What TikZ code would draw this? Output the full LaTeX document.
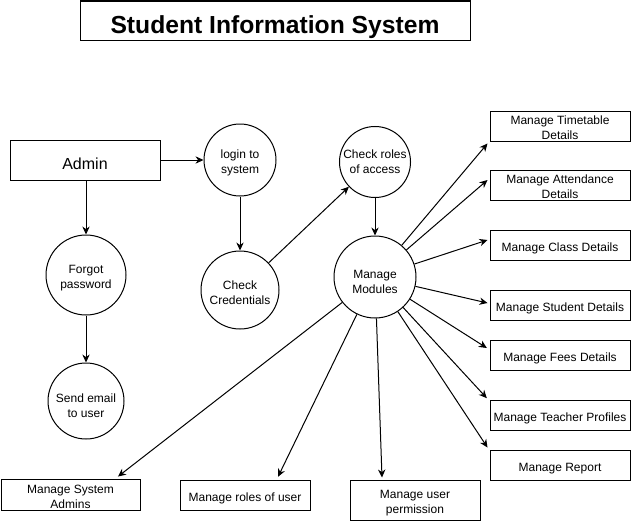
\documentclass[tikz,border=0pt]{standalone}
\usepackage{fontspec}
\setmainfont{Liberation Sans}
\usetikzlibrary{arrows.meta}
\newcommand\dnr[1]{\rule{0pt}{#1}}
\begin{document}
\begin{tikzpicture}[x=0.75pt,y=-0.75pt,
  every node/.style={inner sep=1pt, align=center, font=\fontsize{9}{11.25}\selectfont,
    execute at begin node={\rule{0pt}{1.25em}}},
  box/.style={draw, line width=0.75pt, rectangle, minimum width=105pt, minimum height=22.5pt},
  proc/.style={draw, line width=0.75pt, circle},
  flow/.style={line width=0.75pt, -{Stealth[length=6pt,width=5.5pt]}}]
\useasboundingbox (0,0) rectangle (631,521);
\node[box, minimum width=292.5pt, minimum height=29.25pt, font=\fontsize{18.5}{22}\selectfont\bfseries,
  execute at begin node={\rule{0pt}{0.95em}}] (title) at (275,20.5) {Student Information System};
\node[box, minimum width=112.5pt, minimum height=30pt, font=\fontsize{12}{14}\selectfont] (admin) at (85,160) {Admin};
\node[proc, minimum size=54pt] (login) at (240,160) {\dnr{11.1pt}login to\\system};
\node[proc, minimum size=60pt] (forgot) at (86,275) {\dnr{11.1pt}Forgot\\password};
\node[proc, minimum size=58.5pt] (cred) at (240,290) {\dnr{10.4pt}Check\\Credentials};
\node[proc, minimum size=52.5pt] (roles) at (375,162) {Check roles\\of access};
\node[proc, minimum size=61.5pt] (mm) at (375,277) {\dnr{14.1pt}Manage\\Modules};
\node[proc, minimum size=57pt] (send) at (86,401) {\dnr{14.1pt}Send email\\to user};
\node[box] (tt) at (560,126) {\dnr{8.9pt}Manage Timetable\\Details};
\node[box] (att) at (560,185) {\dnr{8.9pt}Manage Attendance\\Details};
\node[box] (cls) at (560,245) {Manage Class Details};
\node[box] (stu) at (560,305) {Manage Student Details};
\node[box] (fees) at (560,355) {Manage Fees Details};
\node[box] (tea) at (560,415) {Manage Teacher Profiles};
\node[box] (rep) at (560,465) {Manage Report};
\node[box, minimum width=97.5pt, minimum height=30pt] (perm) at (415,500) {\dnr{11.1pt}Manage user\\permission};
\node[box, minimum width=104.25pt] (sys) at (70.5,495) {\dnr{9.6pt}Manage System\\Admins};
\node[box, minimum width=97.5pt] (rou) at (245,495) {Manage roles of user};
\draw[flow] (admin) -- (login);
\draw[flow] (admin.south -| forgot) -- (forgot);
\draw[flow] (forgot) -- (send);
\draw[flow] (login) -- (cred);
\draw[flow] (cred) -- (roles);
\draw[flow] (roles) -- (mm);
\draw[flow] (mm) -- ([shift={(-1.5pt,-1.5pt)}]tt.south west);
\draw[flow] (mm) -- ([shift={(-1.5pt,3.75pt)}]att.west);
\draw[flow] (mm) -- ([shift={(-1.5pt,3.75pt)}]cls.west);
\draw[flow] (mm) -- ([shift={(-1.5pt,1.5pt)}]stu.west);
\draw[flow] (mm) -- ([shift={(-2pt,5.25pt)}]fees.west);
\draw[flow] (mm) -- ([shift={(-2pt,1pt)}]tea.north west);
\draw[flow] (mm) -- ([shift={(-1.5pt,1.5pt)}]rep.north west);
\draw[flow] (mm) -- ([shift={(-24.75pt,1.5pt)}]perm.north);
\draw[flow] (mm) -- ([shift={(24.75pt,2pt)}]rou.north);
\draw[flow] (mm) -- ([shift={(35.6pt,2pt)}]sys.north);
\end{tikzpicture}
\end{document}
